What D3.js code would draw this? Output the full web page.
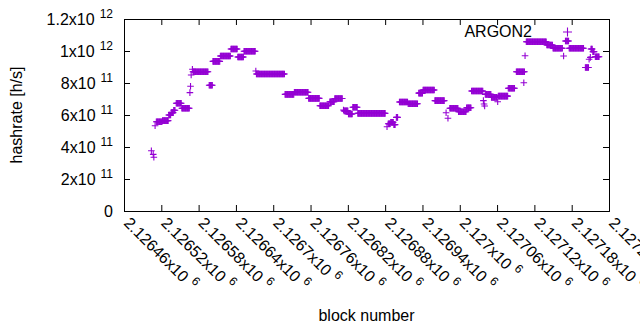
<!DOCTYPE html>
<html>
<head>
<meta charset="utf-8">
<script src="https://cdn.jsdelivr.net/npm/d3@7"></script>
<style>
  body { margin: 0; background: #fff; }
  text { font-family: "Liberation Sans", Arial, sans-serif; fill: #000; }
</style>
</head>
<body>
<div id="chartArea"></div>
<script>
// runs of blocks that share one hashrate estimate (single points have start == end)
var runStart = [2126504, 2126507, 2126508, 2126510, 2126512, 2126522, 2126532, 2126536, 2126540,
  2126544, 2126553, 2126566, 2126567, 2126568, 2126570, 2126571, 2126597, 2126603, 2126615,
  2126632, 2126643, 2126653, 2126672, 2126673, 2126719, 2126734, 2126757, 2126775, 2126791,
  2126799, 2126813, 2126814, 2126821, 2126828, 2126836, 2126883, 2126885, 2126889, 2126894,
  2126898, 2126903, 2126917, 2126934, 2126941, 2126960, 2126978, 2126981, 2126984, 2126998,
  2127011, 2127019, 2127038, 2127039, 2127040, 2127041, 2127051, 2127061, 2127062, 2127078,
  2127091, 2127103, 2127105, 2127107, 2127140, 2127150, 2127167, 2127170, 2127176, 2127202,
  2127208, 2127210, 2127211, 2127214, 2127216, 2127218];
var runEnd = [2126504, 2126507, 2126508, 2126510, 2126521, 2126531, 2126535, 2126539, 2126542,
  2126552, 2126565, 2126566, 2126567, 2126568, 2126570, 2126595, 2126602, 2126614, 2126631,
  2126642, 2126652, 2126671, 2126672, 2126718, 2126733, 2126756, 2126774, 2126789, 2126798,
  2126811, 2126813, 2126820, 2126827, 2126835, 2126880, 2126883, 2126888, 2126893, 2126896,
  2126900, 2126916, 2126932, 2126940, 2126959, 2126975, 2126978, 2126981, 2126997, 2127010,
  2127018, 2127037, 2127038, 2127039, 2127040, 2127050, 2127060, 2127061, 2127077, 2127088,
  2127104, 2127103, 2127105, 2127139, 2127149, 2127165, 2127167, 2127175, 2127199, 2127207,
  2127208, 2127210, 2127213, 2127215, 2127216, 2127224];
var runRate = [3.77e11, 3.54e11, 3.36e11, 5.33e11, 5.58e11, 5.65e11, 6.0e11, 6.15e11, 6.3e11,
  6.73e11, 6.42e11, 7.4e11, 7.8e11, 8.5e11, 8.86e11, 8.7e11, 7.86e11, 9.35e11, 9.69e11,
  1.0125e12, 9.625e11, 9.98e11, 8.75e11, 8.56e11, 7.29e11, 7.42e11, 7.04e11, 6.58e11, 6.83e11,
  7.03e11, 6.31e11, 6.26e11, 6.06e11, 6.48e11, 6.1e11, 5.27e11, 5.45e11, 5.55e11, 5.4e11,
  5.85e11, 6.81e11, 6.7e11, 7.37e11, 7.56e11, 6.9e11, 6.14e11, 5.8e11, 6.42e11, 6.2e11,
  6.45e11, 7.5e11, 6.9e11, 6.69e11, 6.56e11, 7.29e11, 7.1e11, 6.83e11, 7.18e11, 7.67e11,
  8.7e11, 8.02e11, 9.7e11, 1.058e12, 1.0375e12, 1.017e12, 9.69e11, 1.0625e12, 1.017e12, 8.97e11,
  9.48e11, 9.6e11, 1.0125e12, 9.95e11, 9.96e11, 9.64e11];

var xTicks = [2126460, 2126520, 2126580, 2126640, 2126700, 2126760, 2126820, 2126880,
  2126940, 2127000, 2127060, 2127120, 2127180, 2127240];
var yTicks = [0, 2e11, 4e11, 6e11, 8e11, 1e12, 1.2e12];
var seriesName = "ARGON2";

var width = 640, height = 330;
var margin = {top: 19, right: 31, bottom: 120, left: 124};
var color = "#9400d3";

var svg = d3.select('#chartArea').append('svg')
    .attr("width", width)
    .attr("height", height);

var xscale = d3.scaleLinear().domain([2126460, 2127240]).range([margin.left, width - margin.right]);
var yscale = d3.scaleLinear().domain([0, 1.2e12]).range([height - margin.bottom + 1, margin.top]);

var pts = [];
runStart.forEach(function(s, i) {
    d3.range(s, runEnd[i] + 1).forEach(function(b) { pts.push({b: b, v: runRate[i]}); });
});

function plusPath(x, y) {
    var r = 3.3;
    return "M" + (x - r) + "," + y + "H" + (x + r) + "M" + x + "," + (y - r) + "V" + (y + r);
}

// data
svg.append("g").selectAll("path").data(pts).enter().append("path")
    .attr("d", function(d) { return plusPath(xscale(d.b), yscale(d.v)); })
    .attr("stroke", color)
    .attr("stroke-width", 1.1)
    .attr("fill", "none");

// axes (ticks pointing inward, mirrored)
var x0 = xscale.range()[0], x1 = xscale.range()[1];
var y0 = yscale.range()[0], y1 = yscale.range()[1];
svg.append("g").attr("transform", "translate(0," + y0 + ")")
    .call(d3.axisBottom(xscale).tickValues(xTicks).tickSize(-6).tickFormat(""));
svg.append("g").attr("transform", "translate(0," + y1 + ")")
    .call(d3.axisTop(xscale).tickValues(xTicks).tickSize(-6).tickFormat(""));
svg.append("g").attr("transform", "translate(" + x0 + ",0)")
    .call(d3.axisLeft(yscale).tickValues(yTicks).tickSize(-6).tickFormat(""));
svg.append("g").attr("transform", "translate(" + x1 + ",0)")
    .call(d3.axisRight(yscale).tickValues(yTicks).tickSize(-6).tickFormat(""));
svg.selectAll(".domain").attr("stroke", "#000").attr("stroke-width", 1);
svg.selectAll(".tick line").attr("stroke", "#000");

// y tick labels like 8x10^11
var ylab = svg.append("g").selectAll("text").data(yTicks).enter().append("text")
    .attr("x", 113)
    .attr("y", function(d) { return yscale(d) + 5.5; })
    .attr("text-anchor", "end")
    .style("font-size", "16px");
ylab.each(function(d) {
    var t = d3.select(this);
    if (d === 0) { t.text("0"); return; }
    var e = Math.floor(Math.log10(d) + 1e-9);
    var m = +(d / Math.pow(10, e)).toFixed(3);
    t.append("tspan").text(m + "x10");
    t.append("tspan").attr("dx", 5).attr("dy", -7).style("font-size", "12px").text(e);
});

// x tick labels rotated
var xlab = svg.append("g").selectAll("text").data(xTicks).enter().append("text")
    .attr("transform", function(d) { return "translate(" + (xscale(d) - 1) + "," + (y0 + 13) + ") rotate(45)"; })
    .attr("text-anchor", "start")
    .style("font-size", "16px");
xlab.each(function(d) {
    var t = d3.select(this);
    t.append("tspan").text(+(d / 1e6).toFixed(6) + "x10");
    t.append("tspan").attr("dx", 5).attr("dy", -7).style("font-size", "12px").text("6");
});

// axis titles
svg.append("text")
    .attr("transform", "translate(22," + ((y0 + y1) / 2) + ") rotate(-90)")
    .attr("text-anchor", "middle")
    .style("font-size", "16px")
    .text("hashrate [h/s]");
svg.append("text")
    .attr("x", (x0 + x1) / 2)
    .attr("y", 321)
    .attr("text-anchor", "middle")
    .style("font-size", "16px")
    .text("block number");

// key
svg.append("text")
    .attr("x", 532)
    .attr("y", 37)
    .attr("text-anchor", "end")
    .style("font-size", "16px")
    .text(seriesName);
svg.append("path")
    .attr("d", "M563,32H572M567.5,27.5V36.5")
    .attr("stroke", color)
    .attr("stroke-width", 1.1);
</script>
</body>
</html>
